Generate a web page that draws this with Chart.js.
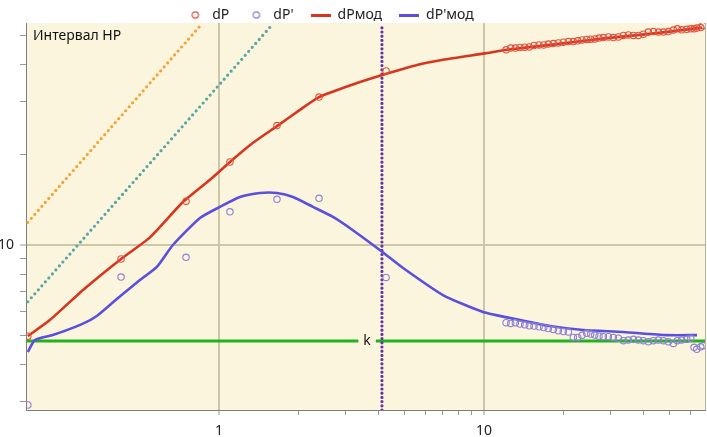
<!DOCTYPE html>
<html>
<head>
<meta charset="utf-8">
<script src="https://cdn.jsdelivr.net/npm/chart.js@4/dist/chart.umd.min.js"></script>
<style>
  html, body { margin: 0; padding: 0; background: #fff; overflow: hidden; }
  #wrap { width: 707px; height: 437px; position: relative; }
</style>
</head>
<body>
<div id="wrap"><canvas id="chart"></canvas></div>
<script>
// axis ranges (log-log)
const X_MIN = 0.187, X_MAX = 68.2;
const Y_MIN = 2.82, Y_MAX = 54.9;
const X_TICKS = [1, 2, 3, 4, 5, 6, 7, 8, 9, 10, 20, 30, 40, 50, 60, 68.2];
const Y_TICKS = [3, 4, 5, 6, 7, 8, 9, 10, 20, 30, 40, 50];
const X_LABELS = [1, 10];
const Y_LABELS = [10];

// observed points
const T_OBS = [0.190, 0.427, 0.751, 1.10, 1.655, 2.385, 4.27,
  12.11, 12.61, 13.13, 13.67, 14.24, 14.82, 15.44, 16.13, 16.80, 17.48,
  18.26, 19.07, 19.92, 20.80, 21.73, 22.57, 23.43, 24.41, 25.27, 26.17,
  27.16, 28.20, 29.45, 30.75, 32.12, 33.55, 35.04, 36.60, 38.22, 39.92,
  41.69, 43.55, 45.48, 47.50, 49.61, 51.81, 53.64, 55.72, 58.19, 60.26,
  62.02, 63.48, 65.72, 66.88];
const DP = [4.97, 8.98, 14.0, 18.9, 25.0, 31.1, 38.0,
  44.7, 45.3, 45.3, 45.5, 45.6, 45.7, 46.2, 46.4, 46.4, 46.7,
  46.9, 47.1, 47.4, 47.6, 47.6, 47.9, 48.2, 48.4, 48.5, 48.6,
  48.9, 49.1, 49.3, 49.1, 49.3, 49.9, 50.1, 49.9, 49.9, 50.4,
  51.2, 51.4, 51.2, 51.2, 51.4, 52.0, 52.5, 52.1, 52.3, 52.5,
  52.5, 52.8, 53.0, 53.8];
const DPD = [2.93, 7.82, 9.10, 12.9, 14.2, 14.3, 7.80,
  5.51, 5.48, 5.51, 5.45, 5.42, 5.38, 5.37, 5.34, 5.31, 5.27,
  5.23, 5.18, 5.15, 5.13, 4.92, 4.92, 5.00, 5.08, 5.05, 5.01,
  4.97, 4.95, 4.95, 4.92, 4.89, 4.80, 4.82, 4.85, 4.82, 4.80,
  4.76, 4.80, 4.82, 4.80, 4.76, 4.70, 4.80, 4.82, 4.85, 4.89,
  4.56, 4.49, 4.58, 4.62];

// model curves
const T_MOD_P = [0.190, 0.230, 0.307, 0.427, 0.549, 0.731, 0.925, 1.10, 1.344, 1.655, 2.02,
  2.385, 3.12, 4.16, 5.59, 7.00, 10.09, 12.2, 18.86, 29.1, 44.97, 66.46];
const P_MOD = [4.97, 5.62, 7.08, 8.98, 10.6, 13.9, 16.5, 18.9, 21.9, 24.9, 28.2,
  31.1, 34.0, 36.9, 39.8, 41.4, 43.5, 44.7, 46.7, 48.9, 50.8, 53.0];
const T_MOD_D = [0.190, 0.202, 0.236, 0.304, 0.346, 0.416, 0.503, 0.583, 0.670, 0.848, 1.009,
  1.20, 1.428, 1.655, 1.902, 2.263, 2.693, 3.20, 4.09, 4.95, 7.00, 9.91, 12.54, 17.75,
  23.64, 33.45, 49.05, 63.65];
const D_MOD = [4.40, 4.82, 5.01, 5.45, 5.80, 6.66, 7.64, 8.45, 10.0, 12.3, 13.4,
  14.45, 14.9, 14.9, 14.45, 13.4, 12.4, 11.2, 9.55, 8.38, 6.81, 5.98, 5.71, 5.37,
  5.21, 5.13, 5.01, 5.01];

// straight guide lines
const WBS1_T = [0.19, 0.863], WBS1_P = [11.9, 54.6];
const WBS2_T = [0.19, 1.585], WBS2_P = [6.47, 54.1];
const IARF_T = [4.12, 4.12], IARF_P = [2.82, 53.0];
const K_T = [X_MIN, X_MAX], K_P = [4.79, 4.79];
const K_LABEL_T = 3.62;

const RED = '#d8351f', RED_PT = '#e0523e';
const BLUE = '#5b50dd', BLUE_PT = '#8c80d6';
const GRID = '#cdc7aa';
const CREAM = '#fcf5dd';
const FONT = 'Noto Sans';

const pts = (xs, ys) => xs.map((x, i) => ({ x, y: ys[i] }));

function lineMark(color) {
    const c = document.createElement('canvas');
    c.width = 20; c.height = 3;
    const g = c.getContext('2d');
    g.fillStyle = color;
    g.fillRect(0, 0, 20, 3);
    return c;
}
function circleMark(color) {
    const c = document.createElement('canvas');
    c.width = 10; c.height = 10;
    const g = c.getContext('2d');
    g.strokeStyle = color; g.lineWidth = 1.2;
    g.beginPath(); g.arc(5, 5, 3.2, 0, Math.PI * 2); g.stroke();
    return c;
}
const MARKS = [circleMark(RED_PT), circleMark(BLUE_PT), lineMark(RED), lineMark(BLUE)];

const dotted = (data, color, gap, order) => ({
    data, showLine: true, pointRadius: 0, borderColor: color, borderWidth: 3.2,
    borderDash: [0, gap], borderCapStyle: 'round', order
});

const frame = {
    id: 'frame',
    beforeInit(chart) {
        const lg = chart.legend;
        if (lg) {
            const fit = lg.fit.bind(lg);
            lg.fit = function () { fit(); this.height = 23; };
        }
    },
    afterLayout(chart) {
        const lg = chart.legend;
        if (lg) { lg.top = -9; lg.left -= 23; lg.right -= 23; }
    },
    beforeDraw(chart) {
        const { ctx, chartArea: a } = chart;
        ctx.save();
        ctx.fillStyle = CREAM;
        ctx.fillRect(a.left, a.top, a.right - a.left, a.bottom - a.top);
        ctx.restore();
    },
    afterDatasetsDraw(chart) {
        const { ctx, chartArea: a, scales } = chart;
        ctx.save();
        ctx.font = '14px "' + FONT + '"';
        const kx = scales.x.getPixelForValue(K_LABEL_T);
        const ky = scales.y.getPixelForValue(K_P[0]);
        const w = ctx.measureText('k').width + 10;
        ctx.fillStyle = CREAM;
        ctx.fillRect(kx - w / 2, ky - 4, w, 8);
        ctx.fillStyle = '#111';
        ctx.textAlign = 'center';
        ctx.textBaseline = 'middle';
        ctx.fillText('k', kx, ky);
        ctx.textAlign = 'left';
        ctx.textBaseline = 'alphabetic';
        ctx.fillText('Интервал НР', a.left + 7, a.top + 17);
        ctx.restore();
    }
};

new Chart(document.getElementById('chart'), {
    type: 'scatter',
    data: {
        datasets: [
            { label: 'dP', data: pts(T_OBS, DP), pointRadius: 3.2, pointBorderWidth: 1.1,
              pointBorderColor: RED_PT, pointBackgroundColor: 'transparent', borderColor: RED_PT, order: 1 },
            { label: "dP'", data: pts(T_OBS, DPD), pointRadius: 3.2, pointBorderWidth: 1.1,
              pointBorderColor: BLUE_PT, pointBackgroundColor: 'transparent', borderColor: BLUE_PT, order: 1 },
            { label: 'dPмод', data: pts(T_MOD_P, P_MOD), showLine: true, pointRadius: 0,
              borderColor: RED, borderWidth: 2.6, tension: 0.2, order: 2 },
            { label: "dP'мод", data: pts(T_MOD_D, D_MOD), showLine: true, pointRadius: 0,
              borderColor: BLUE, borderWidth: 2.6, tension: 0.2, order: 2 },
            { ...dotted(pts(IARF_T, IARF_P), '#6236a0', 4.2, 3), label: '' },
            { label: '', data: pts(K_T, K_P), showLine: true, pointRadius: 0,
              borderColor: '#1fb41f', borderWidth: 3, order: 4 },
            { ...dotted(pts(WBS1_T, WBS1_P), '#f2a33a', 5.3, 5), label: '' },
            { ...dotted(pts(WBS2_T, WBS2_P), '#5aa6a4', 5.3, 5), label: '' }
        ]
    },
    options: {
        responsive: true,
        maintainAspectRatio: false,
        animation: false,
        layout: { autoPadding: false, padding: { right: 2 } },
        plugins: {
            tooltip: { enabled: false },
            legend: {
                position: 'top',
                labels: {
                    usePointStyle: true,
                    pointStyleWidth: 20,
                    padding: 17,
                    color: '#222',
                    font: { family: FONT, size: 14 },
                    filter: item => item.text !== '',
                    sort: (a, b) => a.datasetIndex - b.datasetIndex,
                    generateLabels: chart => Chart.defaults.plugins.legend.labels.generateLabels(chart)
                        .map(l => ({ ...l, pointStyle: MARKS[l.datasetIndex] || l.pointStyle }))
                }
            }
        },
        scales: {
            x: {
                type: 'logarithmic',
                min: X_MIN, max: X_MAX,
                afterFit: s => { s.height = 27; s.paddingLeft = 0; s.paddingRight = 0; },
                afterBuildTicks: s => { s.ticks = X_TICKS.map(v => ({ value: v })); },
                border: { display: true, color: '#7d7d7d', width: 1 },
                grid: {
                    color: c => X_LABELS.includes(c.tick && c.tick.value) ? GRID
                        : (c.tick && c.tick.value === X_MAX ? '#b8b3a0' : 'transparent'),
                    lineWidth: c => X_LABELS.includes(c.tick && c.tick.value) ? 2 : 1,
                    tickColor: c => c.tick && c.tick.value === X_MAX ? 'transparent' : '#999',
                    tickWidth: 1,
                    tickLength: 5
                },
                ticks: {
                    autoSkip: false, maxRotation: 0, padding: 8,
                    color: '#222', font: { family: FONT, size: 14 },
                    callback: v => X_LABELS.includes(v) ? String(v) : ''
                }
            },
            y: {
                type: 'logarithmic',
                min: Y_MIN, max: Y_MAX,
                afterFit: s => { s.width = 26; s.paddingTop = 0; s.paddingBottom = 0; },
                afterBuildTicks: s => { s.ticks = Y_TICKS.map(v => ({ value: v })); },
                border: { display: true, color: '#7d7d7d', width: 1 },
                grid: {
                    color: c => Y_LABELS.includes(c.tick && c.tick.value) ? GRID : 'transparent',
                    lineWidth: c => Y_LABELS.includes(c.tick && c.tick.value) ? 2 : 1,
                    tickColor: '#999',
                    tickWidth: 1,
                    tickLength: 6
                },
                ticks: {
                    autoSkip: false, padding: 6,
                    color: '#222', font: { family: FONT, size: 14 },
                    callback: v => Y_LABELS.includes(v) ? String(v) : ''
                }
            }
        }
    },
    plugins: [frame]
});
</script>
</body>
</html>
